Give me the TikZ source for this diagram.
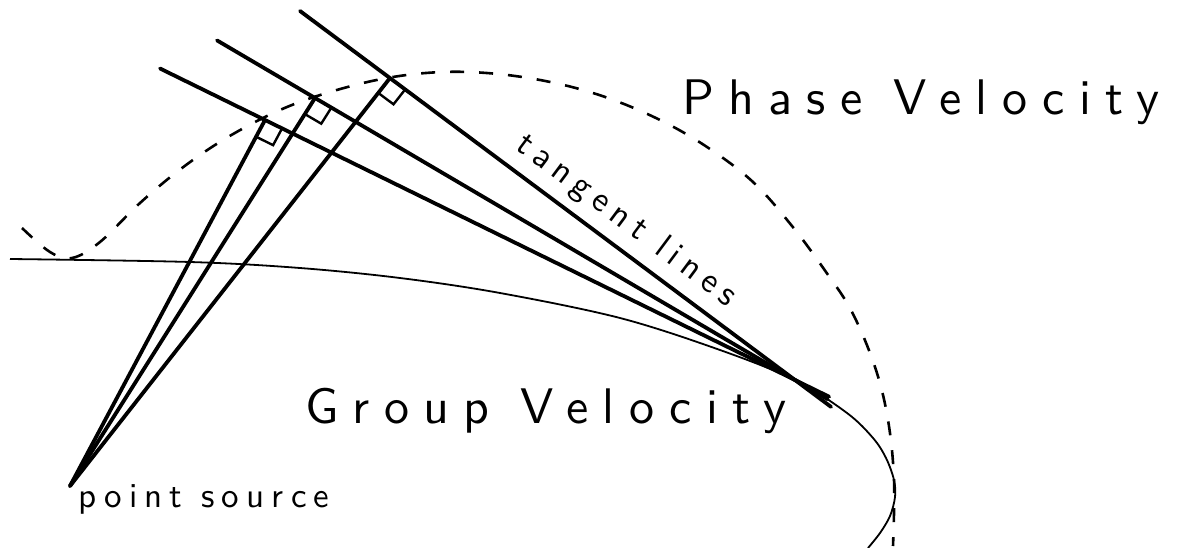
\documentclass[tikz,border=0pt]{standalone}
\usepackage{fontspec}
\usetikzlibrary{calc}

\newfontfamily\plotfont{lmsans10-regular.otf}

\tikzset{
  ray/.style={line width=3.8pt,line cap=round},
  groupcurve/.style={line width=1.8pt},
  phasecurve/.style={line width=2.6pt,dash pattern=on 14pt off 15pt},
  rtmark/.style={line width=2.4pt},
  biglabel/.style={font=\plotfont\fontsize{50}{50}\selectfont\addfontfeatures{LetterSpace=28.5},anchor=base west,inner sep=0pt},
  smalllabel/.style={font=\plotfont\fontsize{35}{35}\selectfont\addfontfeatures{LetterSpace=20.5},inner sep=0pt}
}

% right angle mark at foot #1, along the tangent towards #2 and the ray towards #3
\newcommand{\perpmark}[3]{%
  \draw[rtmark] ($(#1)!19pt!(#2)$) -- ($(#1)!19pt!(#2)+(#1)!19pt!(#3)-(#1)$) -- ($(#1)!19pt!(#3)$);}

\begin{document}
\begin{tikzpicture}[x=1pt,y=-1pt]
  \useasboundingbox (0,0) rectangle (1185,548);
  \coordinate (S) at (70,486);
  \coordinate (C) at (795,380);
  \coordinate (F1) at (265,120);
  \coordinate (F2) at (315,98);
  \coordinate (F3) at (390,78);
  \coordinate (T1) at (160,68.5);
  \coordinate (T2) at (217,40.4);
  \coordinate (T3) at (300,11);
  \coordinate (E1) at ($(C)!-38pt!(F1)$);
  \coordinate (E2) at ($(C)!-38pt!(F2)$);
  \coordinate (E3) at ($(C)!-45pt!(F3)$);

  % group velocity
  \draw[groupcurve] plot[smooth,tension=0.55] coordinates {(10,259) (190,262) (300,268) (400,278) (500,293)
    (620,318) (720,350) (795,380) (847,413) (873,438) (886,458) (894,480) (895,497) (890,516) (880,533) (868,548)};
  % phase velocity
  \draw[phasecurve] plot[smooth,tension=0.6] coordinates {(22,228) (50,252) (72,258) (100,242) (140,203)
    (182,168) (228,137) (280,110) (330,92) (387,78) (443,72) (498,74) (555,83) (608,98) (660,120)
    (707,147) (753,182) (792,226) (826,272) (852,312) (875,367) (888,420) (894,480) (893,546)};

  % tangent lines and rays
  \draw[ray] (T1) -- (E1);
  \draw[ray] (T2) -- (E2);
  \draw[ray] (T3) -- (E3);
  \draw[ray] (S) -- (F1);
  \draw[ray] (S) -- (F2);
  \draw[ray] (S) -- (F3);
  \perpmark{F1}{C}{S}
  \perpmark{F2}{C}{S}
  \perpmark{F3}{C}{S}

  \node[biglabel] (phase) at (682,115) {Phase Velocity};
  \node[biglabel] (group) at (305,423) {Group Velocity};
  \node[smalllabel,anchor=base west] (src) at (78,507) {point source};
  \node[smalllabel,anchor=base,rotate=-36.7] (tang) at (621,228) {tangent lines};
\end{tikzpicture}
\end{document}
